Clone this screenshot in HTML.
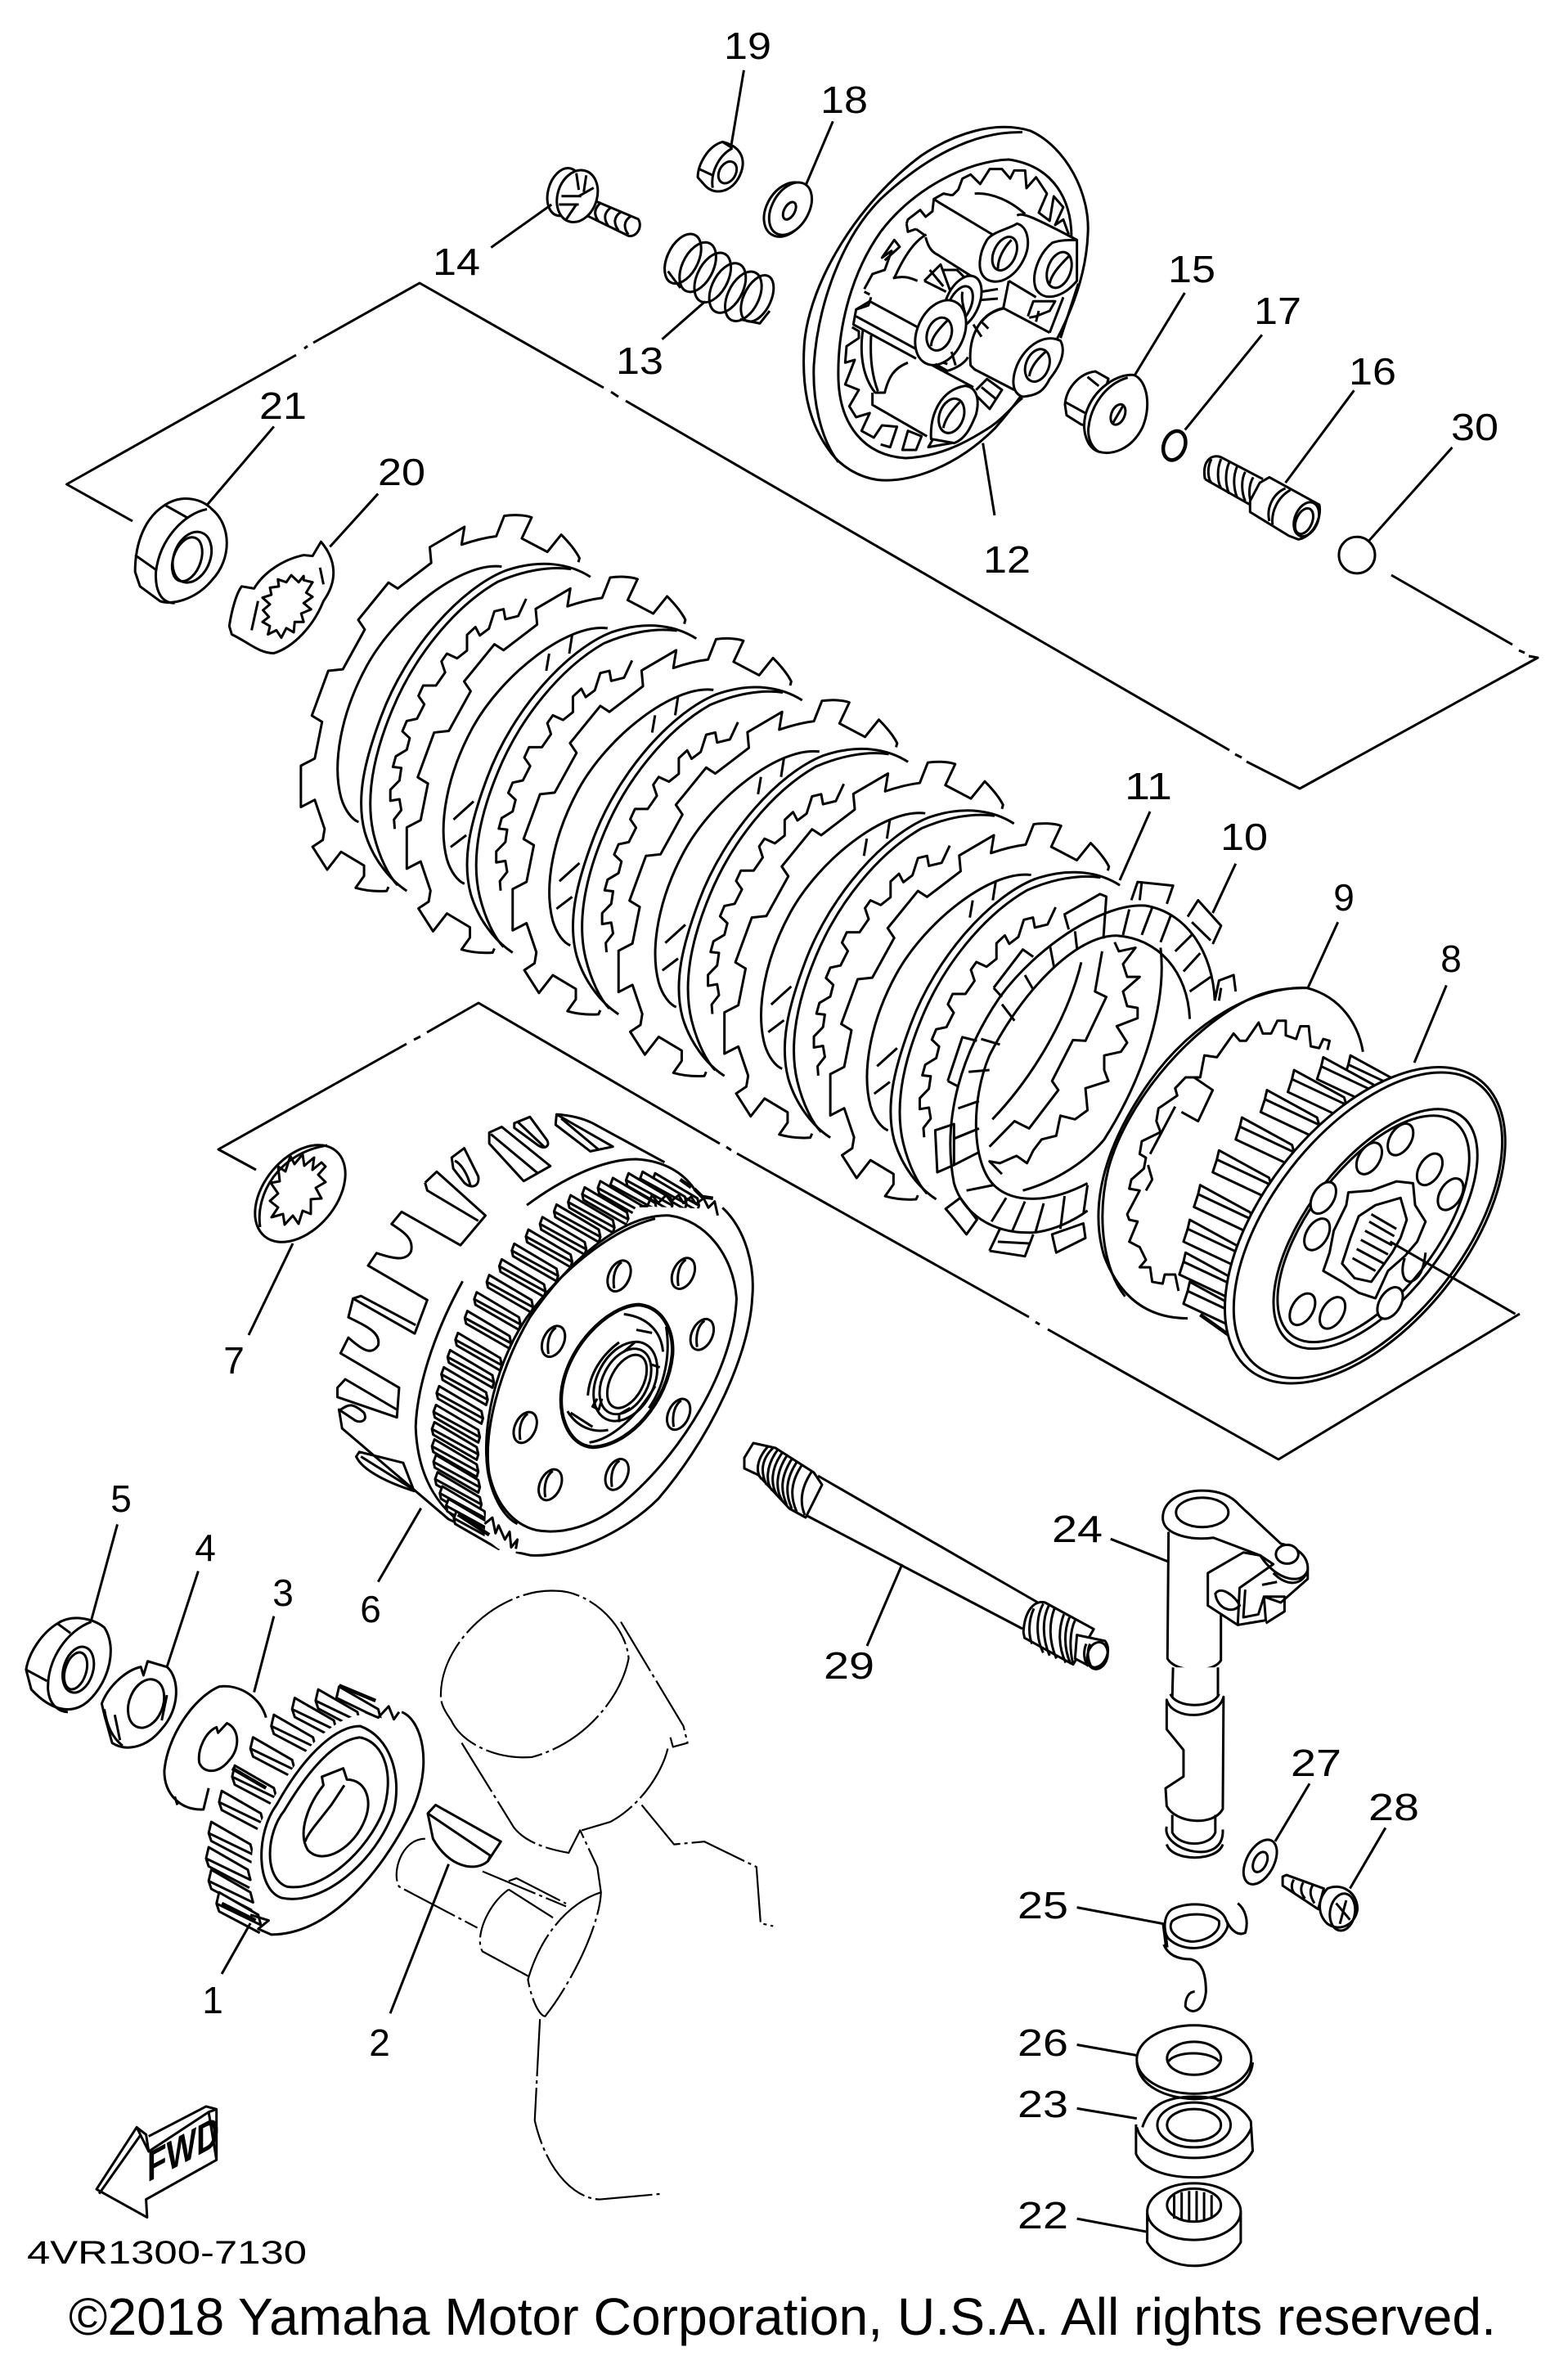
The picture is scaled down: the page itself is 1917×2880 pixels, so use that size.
<!DOCTYPE html>
<html><head><meta charset="utf-8"><title>Clutch diagram</title>
<style>
html,body{margin:0;padding:0;background:#fff}
svg{display:block}
path,ellipse,line,polyline,polygon{fill:none;stroke:#000;stroke-width:3;stroke-linejoin:round;vector-effect:non-scaling-stroke}
.w{fill:#fff}
.k{fill:#000}
.t{stroke-width:2.2;stroke-dasharray:70 5 4 5}
.b{stroke-width:4.5}
text{font-family:"Liberation Sans",sans-serif;font-size:46px;fill:#000;text-anchor:middle}
</style></head><body>
<svg xmlns="http://www.w3.org/2000/svg" width="1917" height="2880" viewBox="0 0 1917 2880">
<defs>
<g id="p">
<path d="M800,228 L803,215 C790,185 770,160 753,140 L715,195 L645,152 L672,85 C650,76 620,76 597,80 L575,145 C540,150 510,160 480,172 L488,115 L393,180 L397,230 L305,312 L280,293 L197,412 L215,443 L155,570 L115,575 L70,718 L98,738 L78,855 L40,878 L40,1010 L78,987 L105,1080 L100,1115 L72,1137 L112,1210 L150,1153 L213,1197 L213,1230 L190,1268 C220,1278 250,1280 275,1278 L280,1265"/>
<path d="M590,242 C480,225 300,390 220,560 C150,710 125,870 150,980 C160,1020 180,1050 198,1058"/>
<path d="M833,275 C780,235 700,215 600,255 C480,310 330,500 260,720 C215,860 190,980 215,1090 C235,1170 280,1240 330,1278"/>
<path d="M780,250 C720,240 650,255 580,290 C460,370 350,530 290,700 C240,840 215,980 240,1100 C255,1170 280,1230 305,1260"/>
<path d="M657,345 L635,400 L600,410 L595,378 L570,385 L555,440 L530,462 L518,435 L495,460 L495,510 L468,535 L440,520 L425,545 L435,580 L410,622 L375,622 L362,655 L378,682 L358,728 L330,735 L318,768 L338,790 L330,827 L300,848 L292,882 L315,885 L310,925 L285,955 L285,990 L310,985 L315,1020 L295,1050 L297,1080"/>
</g>
<path id="s" d="M430,323 L422,378 M493,263 L485,323 M223,795 L168,853 M203,903 L160,941"/>
<path id="ht" class="w" d="M0,0 L120,75 L125,95 L-5,25 Z M-5,25 L-15,60 L115,130 L125,95"/>
<path id="gt" class="w" d="M0,0 L135,80 L140,103 L-8,22 Z M-8,22 L-4,40 L135,120 L140,103"/>
<path id="st" class="w" d="M0,0 L75,40 L80,58 L-5,20 Z M-5,20 L0,34 L78,72"/>
<g id="h6"><ellipse class="w" rx="33" ry="52" transform="rotate(25)"/><path d="M8,-44 C-12,-30 -22,0 -16,40"/></g>
<g id="hh"><ellipse class="w" rx="26" ry="46" transform="rotate(25)"/></g>
</defs>
<rect width="1917" height="2880" fill="#fff"/>

<!-- phantom outlines -->
<path d="M162,637 L81.5,592 L362,434 M372,426 L376,423 M383,419 L513,346 L738,474 M747,479 L756,485 M765,490 L1503,917 M1510,922 L1518,926 M1524,931 L1589,964 L1880,804 L1869,802 M1864,798 L1857,795 M1849,788 L1701,703"/>
<path d="M313,1430 L267,1405 L497,1276 M506,1271 L514,1267 M522,1262 L585,1226 L880,1398 M888,1402 L894,1406 M901,1410 L1258,1610 M1266,1616 L1271,1619 M1281,1625 L1563,1784 L1858,1606"/>

<!-- plates -->
<g transform="translate(350,600) scale(.4464,.3827)">
<use href="#p"/><use href="#p" transform="translate(290,197)"/><use href="#p" transform="translate(580,394)"/><use href="#p" transform="translate(870,591)"/><use href="#p" transform="translate(1160,788)"/><use href="#p" transform="translate(1450,985)"/>
<use href="#s" transform="translate(290,197)"/><use href="#s" transform="translate(580,394)"/><use href="#s" transform="translate(870,591)"/><use href="#s" transform="translate(1160,788)"/><use href="#s" transform="translate(1450,985)"/>
</g>

<!-- parts 10, 9, 8 -->
<g transform="translate(1100,1000) scale(.5102,.4464)">
<path d="M485,365 L468,475 L495,490 L445,610 L415,608 L365,720 L380,745 L310,850 L275,830 L215,900"/>
<path d="M625,355 C640,500 590,700 490,880 C440,950 360,1000 295,1020"/>
<path d="M435,395 C400,560 310,720 222,825"/>
<path d="M695,550 C690,420 620,330 520,322 C420,320 290,480 215,650 C170,770 170,950 230,1010 C270,1050 350,1060 450,1000"/>
<path d="M515,340 L525,365 L565,355 L535,400 L545,435 L575,435 L535,475 L545,515 L570,520 L570,548 L520,570 L545,615 L530,640 L490,650 L490,690 L500,720 L445,740 L450,800 L420,825 L385,815 L375,870 L340,880 L320,910 L305,945 L280,925 L240,945 L215,940 L245,975"/>
<path d="M755,500 C750,370 690,260 590,240 C490,230 330,350 240,490 C150,640 100,820 130,1000 C150,1080 220,1140 320,1135 C370,1130 420,1100 450,1075"/>
<path d="M393,265 L480,208 L495,215 L488,330 M395,265 L405,305 M225,465 L295,360 L320,380 M225,465 L245,490 M115,720 L150,600 L185,610 M115,720 L140,735 M85,855 L130,838 L130,950 L90,970 Z M110,1070 L145,1040 L185,1100 L160,1140 L125,1090 Z M215,1185 L240,1125 M215,1185 L300,1200 L320,1140 M235,1160 L310,1165 M365,1140 L440,1110 L445,1150 L375,1190 Z M555,225 L570,175 L655,185 L640,235 M580,175 L575,225 M690,270 L715,225 L770,295 L750,345 M700,285 L745,335 M755,500 L765,445 L800,430 L805,475 M770,465 L765,500"/>
<path d="M550,250 L535,320 M605,245 L580,320 M650,265 L625,340 M700,320 L660,365 M720,370 L680,420 M745,435 L695,475 M420,310 L425,360 M360,350 L370,410 M300,430 L320,470 M245,510 L275,555 M195,605 L240,620 M165,695 L215,690 M140,795 L190,775 M130,878 L190,850 M130,950 L190,915 M160,1020 L225,1005 M220,1105 L255,1040 M270,1130 L300,1050 M325,1135 L345,1055 M385,1125 L395,1035 M440,1085 L450,1005"/>

<path class="w" d="M690,1370 C600,1370 530,1320 490,1200 C450,1050 500,880 600,720 C700,560 850,460 975,465 C1060,490 1100,570 1110,640 L900,1370 Z" style="stroke:none"/>
<path d="M690,1370 C600,1370 530,1320 490,1200 C450,1050 500,880 600,720 C700,560 850,460 975,465 C1060,490 1100,570 1110,640"/>
<path d="M540,1310 C490,1240 470,1100 500,960 C540,790 680,590 830,500 C880,470 930,465 975,465"/>
<path d="M1025,635 L1030,610 L1015,605 L1005,630 L985,625 L980,570 L960,570 L950,605 L925,595 L925,555 L905,555 L890,590 L870,590 L860,560 L830,610 L815,610 L800,590 L760,655 L730,650 L720,710 L685,710 L660,740 L665,760 L620,795 L615,830 L625,860 L580,885 L575,920 L590,930 L585,960 L555,990 L550,1015 L575,1020 L545,1085 L550,1100 L570,1105 L550,1160 L575,1175 L590,1210 L575,1230 L600,1230 L605,1270 L630,1275 L635,1250 L660,1250 L668,1295"/>
<path d="M705,710 L750,745 L715,830 L675,805 M660,790 L600,920 M595,950 L605,990 L590,1020"/>

<use href="#ht" x="1080" y="650"/><use href="#ht" x="1015" y="655"/><use href="#ht" x="945" y="690"/><use href="#ht" x="880" y="745"/><use href="#ht" x="820" y="820"/><use href="#ht" x="765" y="910"/><use href="#ht" x="720" y="1005"/><use href="#ht" x="695" y="1100"/><use href="#ht" x="685" y="1190"/><use href="#ht" x="695" y="1270"/>
<path class="b" d="M720,1360 L800,1425"/>
<ellipse class="w" cx="1115" cy="1115" rx="485" ry="255" transform="rotate(-58 1115 1115)"/>
<ellipse cx="1122" cy="1115" rx="470" ry="240" transform="rotate(-58 1122 1115)"/>
<ellipse cx="1140" cy="1125" rx="372" ry="170" transform="rotate(-58 1140 1125)"/>
<ellipse cx="1135" cy="1125" rx="352" ry="158" transform="rotate(-58 1135 1125)"/>
<g>
<use href="#hh" x="1200" y="880"/><use href="#hh" x="1125" y="932"/><use href="#hh" x="1270" y="962"/><use href="#hh" x="1320" y="1030"/><use href="#hh" x="1015" y="1040"/><use href="#hh" x="1000" y="1140"/><use href="#hh" x="965" y="1345"/><use href="#hh" x="1037" y="1355"/><use href="#hh" x="1175" y="1328"/>
</g>
<path class="w" d="M1130,1020 L1190,995 L1230,1000 L1235,1060 L1260,1105 L1240,1160 L1210,1200 L1170,1240 L1140,1315 L1100,1300 L1060,1270 L1015,1240 L1030,1190 L1040,1130 L1070,1060 L1075,1025 Z"/>
<path d="M1140,1060 L1200,1040 L1215,1100 L1200,1150 L1180,1190 L1130,1270 L1090,1260 L1060,1220 L1080,1150 L1100,1090 Z"/>
<path d="M1130,1085 L1190,1125 M1125,1105 L1185,1145 M1115,1130 L1180,1170 M1105,1155 L1170,1195 M1095,1180 L1160,1220 M1085,1205 L1140,1240"/>
<path d="M1210,1205 C1200,1240 1205,1270 1225,1270 C1245,1260 1255,1240 1260,1190"/>
<path d="M1175,1160 L1475,1358"/>
</g>

<!-- part 12 -->
<g transform="translate(950,130) scale(.3333)">
<path class="w" d="M930,90 C1060,150 1150,320 1140,470 C1130,700 1000,950 800,1180 C650,1330 480,1380 370,1370 C300,1360 230,1320 190,1260 C110,1150 90,1020 100,870 C120,640 300,350 530,180 C650,100 800,50 930,90 Z"/>
<path d="M900,95 C720,90 540,190 380,340 C240,480 150,720 135,950 C130,1080 160,1220 225,1305"/>
<path d="M1080,480 C1080,350 1020,220 850,195 C700,200 500,300 380,460 C280,600 220,800 225,1000 C230,1170 320,1280 470,1290 C590,1285 680,1240 760,1190 C830,1150 870,1090 900,1070"/>
<path d="M1050,700 L1000,830 M1105,650 L1040,850"/>
<path d="M475,430 L480,415 L525,380 L545,405 L570,385 L575,340 L610,320 L635,325 L645,325 L665,305 L680,265 L710,250 L745,285 L780,230 L825,230 L855,265 L870,235 L910,235 L915,300 L950,260 L990,320 L960,390 L1000,420 L1015,330 L1050,370 L1020,435 L1050,415 L1070,470"/>
<path d="M320,670 L350,615 L395,600 L420,530 L385,555 L430,490 L450,515 L395,565 M340,690 L320,680 M290,745 L335,730 L345,700 M275,810 L300,825 L300,850 L255,880 L250,940 L285,930 L250,1020 L300,1040 L265,1100 L290,1140 L340,1125 L310,1190 L355,1215 L385,1170 L440,1175 L415,1250 L380,1240 M460,1260 L480,1190 L530,1210 L510,1260 Z M555,1250 L575,1215 L640,1235 Z"/>
<path d="M430,630 C470,540 510,490 548,470 M425,630 C470,620 490,630 515,640 M315,820 C300,920 320,1000 360,1050 L395,1050 C410,990 430,960 480,940 M345,840 C340,930 350,990 370,1045 M350,1050 L350,1095 L550,1210"/>
<path d="M725,320 C790,315 860,350 910,395 M880,400 C900,390 930,400 1100,490"/>
<path d="M590,350 L790,470 M590,350 L575,340 M545,480 C555,520 570,535 590,545 L740,640 M510,450 L545,475 M475,430 L480,460 L510,450"/>
<path class="w" d="M880,430 C920,440 930,500 910,550 C880,620 820,660 770,635 C730,610 740,540 770,490 C790,460 850,450 880,430 Z"/>
<ellipse cx="835" cy="540" rx="40" ry="65" transform="rotate(25 835 540)"/>
<path d="M860,490 C830,520 810,560 810,595"/>
<path d="M850,640 L950,700 M830,740 L1000,830 M850,640 L830,740 M920,770 L940,715 L1020,715 L1000,750 L950,770 L925,775 M960,750 L950,790"/>
<path class="w" d="M1100,490 L1100,640 C1050,700 980,720 950,670 C930,620 960,540 1010,500 C1040,490 1070,490 1100,490 Z"/>
<ellipse cx="1035" cy="600" rx="42" ry="68" transform="rotate(20 1035 600)"/>
<path d="M1070,550 C1030,590 1005,620 1000,650"/>
<path d="M540,640 L600,580 L640,690 M560,600 L610,660 M540,640 L620,680 M610,600 L660,600 L700,640"/>
<ellipse class="w" cx="680" cy="720" rx="60" ry="105" transform="rotate(25 680 720)"/>
<ellipse cx="670" cy="730" rx="40" ry="75" transform="rotate(25 670 730)"/>
<path d="M680,680 C675,710 685,740 690,760 M750,680 L810,670 M750,710 L810,705 M835,740 C790,750 765,770 750,790 L775,815 M720,800 L750,845"/>
<path d="M340,715 L525,815 M340,715 L290,745 L280,800 L510,925 M290,770 L510,890"/>
<ellipse class="w" cx="600" cy="830" rx="85" ry="125" transform="rotate(25 600 830)"/>
<ellipse cx="595" cy="835" rx="44" ry="62" transform="rotate(20 595 835)"/>
<path d="M625,785 C590,820 565,850 565,880"/>
<path d="M830,740 C740,760 700,850 710,950 L725,965 L870,1040 M570,950 L720,1030 M580,945 L625,970 C660,960 690,940 700,920 M610,940 L625,945 M640,900 L655,950"/>
<path d="M730,1040 L770,1000 L825,1040 L780,1110 L730,1060 M750,1030 L805,1075"/>
<path class="w" d="M1040,860 C1060,900 1040,950 1000,1000 C980,1040 960,1060 900,1065 C860,1050 860,1000 880,950 C910,880 980,830 1040,860 Z"/>
<ellipse cx="955" cy="950" rx="42" ry="62" transform="rotate(22 955 950)"/>
<path d="M985,900 C950,930 930,960 925,990"/>
<path class="w" d="M565,1220 C560,1130 600,1040 690,1025 C730,1030 745,1070 730,1130 C710,1180 690,1220 650,1235 Z"/>
<ellipse cx="640" cy="1135" rx="44" ry="65" transform="rotate(20 640 1135)"/>
<path d="M670,1085 C635,1120 615,1150 610,1180"/>
</g>

<!-- top small parts -->
<g transform="translate(50,0) scale(.6061,.5102)">
<path class="w" d="M1375,340 C1410,350 1425,380 1410,420 C1395,460 1360,470 1340,445 L1325,425 C1325,395 1345,350 1375,340 Z"/>
<path d="M1395,355 C1370,370 1350,410 1355,450 M1375,340 L1395,355 M1328,405 L1355,420"/>
<ellipse cx="1385" cy="413" rx="17" ry="27" transform="rotate(20 1385 413)"/>
<ellipse class="w" cx="1505" cy="502" rx="42" ry="68" transform="rotate(22 1505 502)"/>
<ellipse class="w" cx="1512" cy="500" rx="38" ry="66" transform="rotate(22 1512 500)"/>
<ellipse cx="1510" cy="505" rx="11" ry="22" transform="rotate(22 1510 505)"/>
<path d="M1095,470 L1205,525 C1215,545 1200,570 1185,565 L1090,510"/>
<path d="M1110,475 C1095,490 1095,505 1105,520 M1130,485 C1115,500 1115,515 1125,530 M1150,497 C1135,510 1135,525 1145,542 M1170,508 C1155,520 1155,535 1165,552 M1190,518 C1175,530 1175,545 1185,562"/>
<ellipse class="w" cx="1055" cy="460" rx="32" ry="58" transform="rotate(12 1055 460)"/>
<ellipse class="w" cx="1082" cy="470" rx="40" ry="63" transform="rotate(12 1082 470)"/>
<path d="M1080,415 L1085,455 M1100,420 L1095,460 M1050,470 L1090,470 M1045,490 L1085,490 M1060,525 L1080,490 M1115,450 L1085,470"/>
<ellipse cx="1295" cy="620" rx="32" ry="62" transform="rotate(20 1295 620)"/>
<ellipse cx="1325" cy="640" rx="32" ry="62" transform="rotate(20 1325 640)"/>
<ellipse cx="1355" cy="665" rx="32" ry="62" transform="rotate(20 1355 665)"/>
<ellipse cx="1385" cy="690" rx="32" ry="62" transform="rotate(20 1385 690)"/>
<ellipse cx="1417" cy="710" rx="32" ry="62" transform="rotate(20 1417 710)"/>
<ellipse cx="1445" cy="715" rx="28" ry="58" transform="rotate(20 1445 715)"/>
<path d="M1265,650 L1290,690 M1410,765 L1450,775 L1470,745"/>
<path class="w" d="M250,1210 C290,1180 330,1200 345,1220 C385,1260 385,1340 345,1390 C310,1440 260,1450 240,1440 L200,1405 L190,1370 C190,1300 210,1240 250,1210 Z"/>
<path d="M335,1220 C290,1230 240,1290 232,1370 C230,1420 245,1445 270,1445 M250,1210 L295,1240 M190,1330 L232,1365"/>
<ellipse cx="305" cy="1335" rx="37" ry="62" transform="rotate(15 305 1335)"/>
<ellipse cx="295" cy="1340" rx="28" ry="54" transform="rotate(15 295 1340)"/>
<path class="w" d="M565,1298 C595,1340 600,1390 570,1440 C550,1500 510,1550 470,1565 C440,1565 420,1540 385,1520 L380,1500 C385,1460 395,1420 405,1405 L430,1410 C450,1370 490,1340 530,1330 L548,1332 Z"/>
<polygon points="530,1380 520,1395 505,1378 495,1395 478,1388 480,1405 462,1408 465,1425 447,1432 462,1448 448,1462 460,1478 447,1490 462,1500 458,1520 475,1510 485,1528 495,1505 510,1515 512,1490 530,1490 525,1470 545,1460 530,1445 548,1430 535,1420 548,1395 530,1390"/>
<path d="M438,1440 L425,1510 M563,1360 L570,1400"/>
</g>

<!-- right top parts -->
<g transform="translate(1300,300) scale(.3936,.4464)">
<path class="w" d="M5,435 C10,390 50,350 100,345 L140,365 L100,500 L55,490 L10,465 Z"/>
<path d="M75,360 L110,385 M8,430 L70,460"/>
<path class="w" d="M220,355 C260,370 275,440 245,500 C210,560 150,575 110,565 C75,555 55,510 70,460 C95,390 170,350 220,355 Z"/>
<path d="M200,362 C130,380 85,440 78,500 C75,530 90,555 110,565"/>
<ellipse cx="170" cy="463" rx="20" ry="30" transform="rotate(30 170 463)"/>
<path d="M185,440 L155,485"/>
<ellipse class="b" cx="345" cy="548" rx="32" ry="42" transform="rotate(30 345 548)"/>
<path d="M440,640 C430,590 460,570 490,580 L620,640 M440,640 L580,710"/>
<path d="M460,585 C445,610 450,640 460,650 M490,585 C475,615 480,650 490,665 M515,595 C500,625 505,660 515,680 M540,605 C525,635 530,670 540,690 M565,620 C550,645 555,680 565,700 M590,635 C575,655 575,690 585,705"/>
<path class="w" d="M610,650 L640,635 L795,710 C805,750 770,800 730,805 L700,795 L580,730 L580,700 Z"/>
<ellipse cx="755" cy="750" rx="35" ry="50" transform="rotate(30 755 750)"/>
<ellipse cx="748" cy="755" rx="24" ry="38" transform="rotate(30 748 755)"/>
<path d="M690,665 C650,680 630,720 640,755 M705,670 C665,690 645,730 650,765"/>
<ellipse cx="912" cy="848" rx="56" ry="50"/>
</g>

<!-- part 7 -->
<ellipse cx="367" cy="1459" rx="68" ry="44" transform="rotate(-50 367 1459)"/>
<path d="M318,1500 C312,1460 340,1410 400,1400"/>
<polygon points="393,1421 382,1430 384,1415 372,1425 370,1411 360,1423 355,1413 349,1432 340,1426 342,1444 331,1446 340,1459 330,1468 340,1476 332,1488 346,1484 348,1497 358,1486 365,1496 370,1480 380,1484 380,1466 393,1465 386,1452 398,1445 389,1436 398,1426"/>

<!-- part 6 -->
<g transform="translate(380,1350) scale(.3827)">
<path d="M785,32 L965,135 L893,150 L782,65 Z M800,45 L920,145"/>
<path d="M650,60 L700,40 L755,115 C765,135 745,145 725,130 L650,75 Z M660,55 L745,135"/>
<path d="M570,90 L610,72 L765,197 L680,245 L570,125 Z M575,95 L725,220"/>
<path d="M450,170 L490,140 L535,230 C540,265 510,270 490,250 L455,205 Z M460,180 C480,190 500,220 510,260"/>
<path d="M365,250 L402,215 L558,355 L478,450 L290,343 L258,382 C300,410 330,430 320,470 C305,500 270,495 210,475 L183,515 L372,625 L332,732 L135,620 L160,612 L335,705 M135,620 L120,680 C180,710 225,730 215,770 C195,800 170,790 120,745 L95,795 L282,905 L275,1000 L85,935 L85,905 L110,878 L275,975 M365,250 L372,275 L535,372"/>
<path d="M95,975 C120,960 130,950 170,985 C185,1015 150,1020 135,1005 L90,975 L100,1035 L440,1325 L560,1382"/>
<path d="M155,1110 L295,1145 L330,1235 C250,1210 165,1170 145,1125 Z M160,1125 L320,1225"/>
<path d="M785,32 C830,35 870,45 900,60 L1130,185"/>
<path d="M690,322 C800,240 930,175 1040,175 C1130,180 1190,220 1225,270"/>
<path d="M1315,330 C1390,400 1420,520 1410,620 C1400,800 1280,1060 1110,1260 C1000,1370 820,1450 700,1440 L655,1430"/>
<path d="M485,565 C410,700 340,880 335,1030 C340,1180 400,1310 555,1380"/>
<use href="#gt" x="1100" y="220"/><use href="#gt" x="1060" y="215"/><use href="#gt" x="1015" y="220"/><use href="#gt" x="965" y="235"/><use href="#gt" x="925" y="245"/><use href="#gt" x="875" y="265"/><use href="#gt" x="830" y="290"/><use href="#gt" x="785" y="320"/><use href="#gt" x="740" y="360"/><use href="#gt" x="695" y="400"/><use href="#gt" x="650" y="445"/><use href="#gt" x="610" y="495"/><use href="#gt" x="570" y="545"/><use href="#gt" x="530" y="600"/><use href="#gt" x="500" y="660"/><use href="#gt" x="470" y="730"/><use href="#gt" x="445" y="785"/><use href="#gt" x="425" y="840"/><use href="#gt" x="410" y="900"/><use href="#gt" x="400" y="960"/><use href="#gt" x="395" y="1015"/><use href="#gt" x="395" y="1070"/><use href="#gt" x="400" y="1120"/><use href="#gt" x="405" y="1175"/><use href="#gt" x="420" y="1220"/><use href="#gt" x="440" y="1260"/><use href="#gt" x="465" y="1300"/>
<path class="w" style="stroke:none" d="M1040,325 L1310,335 L1320,370 L1145,358 L1000,400 Z"/>
<path class="w" style="stroke:none" d="M560,1290 L680,1390 L670,1430 L600,1420 L555,1385 Z"/>
<path d="M1050,325 L1075,325 L1090,290 L1110,315 L1135,290 L1150,310 L1175,290 L1190,315 L1215,295 L1230,318 L1255,300 L1270,330 L1290,310 L1300,355"/>
<path d="M555,1340 L580,1320 L590,1370 L600,1345 L620,1390 L635,1365 L640,1415 L660,1390 L655,1420"/>
<path d="M1225,270 L1250,295 L1285,300 M1180,240 L1215,265" class="b"/>
<path d="M470,1310 L570,1375" class="b"/>
<path class="w" d="M1145,355 C1260,370 1350,480 1360,620 C1350,850 1180,1120 1000,1270 C900,1350 800,1375 720,1360 C640,1340 590,1270 570,1180 C550,1050 600,850 700,680 C830,490 1000,350 1145,355 Z"/>
<path d="M1100,365 C960,400 800,530 690,680 C590,830 545,1030 565,1170 C580,1260 620,1320 660,1340"/>
<use href="#h6" x="985" y="548"/><use href="#h6" x="1190" y="540"/><use href="#h6" x="1250" y="735"/><use href="#h6" x="1175" y="990"/><use href="#h6" x="978" y="1182"/><use href="#h6" x="765" y="1215"/><use href="#h6" x="685" y="1032"/><use href="#h6" x="775" y="757"/>
<path class="b" d="M800,930 C810,780 950,640 1050,640 C1130,650 1160,730 1155,800 C1140,950 1020,1090 900,1095 C830,1090 795,1010 800,930 Z"/>
<path d="M820,980 C850,1030 900,1050 950,1040 M1000,670 C1080,680 1120,730 1125,790 M1135,710 C1150,800 1130,900 1080,970 M830,985 L900,1030 M1040,720 L1090,730 M890,1080 C960,1070 1040,1000 1100,900"/>
<ellipse cx="1005" cy="885" rx="90" ry="135" transform="rotate(28 1005 885)"/>
<ellipse cx="1005" cy="885" rx="72" ry="112" transform="rotate(28 1005 885)"/>
<ellipse class="w" cx="1010" cy="885" rx="52" ry="92" transform="rotate(28 1010 885)"/>
<path d="M985,760 C930,800 890,860 885,930 M1000,790 L1035,760 M1085,830 L1115,840 M915,940 L900,965 L920,975 L930,940 M985,1015 L985,990 L1020,970"/>
</g>

<!-- part 29 -->
<path d="M1000,1804 L1269,1959 M985,1852 L1250,1991"/>
<path class="w" d="M910,1782 L921,1764 L948,1770 L995,1800 L1005,1815 L985,1855 L965,1844 L927,1803 L910,1795 Z"/>
<path d="M939,1768 C924,1785 924,1800 931,1808 M945,1770 C930,1785 930,1800 937,1815 M951,1772 C936,1792 936,1812 944,1822 M957,1775 C942,1795 942,1815 950,1828 M963,1778 C948,1800 948,1820 956,1834 M969,1782 C954,1805 954,1822 962,1840 M975,1786 C960,1808 960,1826 968,1844 M981,1790 C966,1812 966,1830 974,1848 M993,1798 C978,1820 978,1838 984,1852"/>

<!-- parts 24-28, 22, 23, 26 -->
<g transform="translate(1200,1750) scale(.4573,.7207)">
<path class="w" d="M112,340 C115,305 140,285 170,290 L300,335 L245,395 L230,390 L115,350 Z"/>
<path d="M140,300 C125,320 125,345 135,360 M165,292 C145,315 145,350 165,375 M180,295 C162,318 162,350 182,380 M195,300 C180,325 180,355 200,385 M220,310 C205,335 205,365 225,392 M235,315 C220,338 220,368 238,394 M250,320 C235,340 235,370 245,395"/>
<path class="w" d="M255,345 L330,355 C350,370 330,400 300,400 L280,395 L250,385 Z"/>
<ellipse cx="310" cy="380" rx="28" ry="22" transform="rotate(-20 310 380)"/>
<path d="M290,360 C280,375 285,390 295,400 M280,360 C270,375 275,390 285,398"/>

<path class="w" d="M500,170 L497,385 C520,410 620,410 640,388 L645,170 Z" style="stroke:none"/>
<path d="M500,170 L497,385 C520,410 620,410 640,388 L640,310"/>
<path class="w" d="M485,150 C480,120 530,100 590,100 C640,100 670,110 690,125 L800,190 C840,195 875,210 872,235 C860,260 790,255 745,210 L620,180 C560,185 490,175 485,150 Z"/>
<ellipse cx="590" cy="137" rx="70" ry="25"/>
<ellipse class="w" cx="817" cy="208" rx="30" ry="16"/>
<path d="M780,240 C820,265 860,260 872,235 L872,250 L800,290 L755,280 L760,320 L685,328 L605,295 L605,240 L700,205 L745,210 L780,225 L690,265 L685,328 M690,265 L780,225 M705,268 L700,315 L740,310 L755,280 L810,280 L810,305 L760,325 M625,275 C640,260 680,280 690,295 C670,310 630,300 625,275 Z M750,260 L790,255"/>
<path class="w" d="M512,400 L510,450 L630,450 L632,400 Z" style="stroke:none"/>
<path d="M512,400 L510,450 M632,400 L632,450"/>
<path class="w" d="M495,455 C510,490 630,490 647,450 L645,640 C620,670 520,665 495,635 L492,605 L540,585 L540,540 L495,505 Z"/>
<path d="M505,445 C520,470 620,470 635,445"/>
<path d="M510,650 L510,680 C530,705 610,705 625,680 L625,650"/>
<path d="M495,670 C480,710 650,740 645,675 M495,700 C510,730 630,730 645,700"/>
<ellipse class="w" cx="745" cy="730" rx="50" ry="30" transform="rotate(-35 745 730)"/>
<ellipse cx="745" cy="730" rx="22" ry="14" transform="rotate(-35 745 730)"/>
<path d="M805,755 L815,752 L915,775 L900,810 L805,770 Z M835,760 C825,770 830,780 840,785 M860,765 C850,775 855,785 865,792 M885,770 C875,780 880,790 890,800"/>
<path class="w" d="M925,775 C960,765 1005,780 1005,810 C1000,835 960,850 925,835 C900,820 895,795 925,775 Z"/>
<ellipse cx="965" cy="815" rx="35" ry="30" transform="rotate(-30 965 815)"/>
<path d="M948,800 L985,828 M975,795 L958,835"/>
<path d="M655,830 C640,800 560,795 510,810 C485,820 485,850 500,860 C540,885 620,880 650,850 C660,840 660,835 655,830 Z"/>
<path d="M635,830 C610,815 540,815 510,830 C495,845 520,862 560,865 C600,865 640,850 635,830 Z"/>
<path d="M487,870 C500,890 530,895 560,895 C590,900 600,920 600,950 C595,985 560,990 545,975 C545,960 555,950 570,950"/>
<path d="M655,830 C670,850 690,855 705,850 C715,830 705,810 685,800"/>
<path class="w b" d="M487,835 L495,875"/>
<ellipse class="w" cx="568" cy="1065" rx="153" ry="58"/>
<path d="M415,1070 C420,1110 490,1130 568,1132 C650,1130 720,1110 725,1070"/>
<ellipse cx="568" cy="1063" rx="72" ry="28"/>
<path d="M500,1068 C520,1050 610,1050 635,1068"/>
<path d="M430,1180 C450,1140 500,1128 568,1128 C650,1128 700,1145 720,1170 L725,1220 C700,1250 640,1265 568,1265 C490,1265 430,1250 413,1225 L413,1175"/>
<path d="M415,1180 C430,1215 500,1232 568,1232 C640,1232 700,1215 722,1180"/>
<ellipse cx="568" cy="1176" rx="98" ry="38"/>
<ellipse cx="568" cy="1176" rx="72" ry="27"/>
<ellipse class="w" cx="568" cy="1323" rx="125" ry="48"/>
<path d="M443,1325 L443,1375 C470,1405 530,1415 568,1415 C620,1415 670,1400 693,1375 L693,1325"/>
<ellipse cx="568" cy="1312" rx="72" ry="28"/>
<path d="M515,1295 L515,1335 M535,1290 L535,1338 M555,1288 L555,1340 M575,1288 L575,1340 M595,1290 L595,1338 M615,1295 L615,1335"/>
</g>

<!-- bottom-left parts -->
<g transform="translate(0,1800) scale(.6378,.6888)">
<path class="w" d="M110,268 C140,250 180,260 200,275 C225,310 210,370 170,405 C140,430 100,425 60,385 L50,350 C55,320 80,285 110,268 Z"/>
<path d="M175,265 C130,280 90,330 92,385 C95,415 115,425 130,425 M110,268 L135,285 M50,350 L90,370"/>
<ellipse cx="150" cy="350" rx="28" ry="42" transform="rotate(20 150 350)"/>
<ellipse cx="145" cy="352" rx="20" ry="34" transform="rotate(20 145 352)"/>
<path class="w" d="M283,335 L320,345 C345,365 345,420 310,455 C280,490 240,495 215,480 L200,430 L195,410 C210,375 245,350 270,345 L275,360 Z"/>
<ellipse cx="280" cy="410" rx="32" ry="45" transform="rotate(25 280 410)"/>
<path d="M220,430 L230,475 M320,395 L310,440 M200,420 C205,450 215,470 235,485"/>
<path d="M510,435 C500,400 460,375 420,380 C370,400 320,470 315,530 C315,570 345,600 390,598 L400,560 M335,575 L340,590"/>
<path d="M435,445 C460,455 460,490 440,510 C420,535 390,535 382,515 C378,490 395,460 415,452 L418,462 Z"/>
<use href="#st" x="650" y="380"/><use href="#st" x="610" y="385"/><use href="#st" x="565" y="400"/><use href="#st" x="525" y="430"/><use href="#st" x="485" y="470"/><use href="#st" x="450" y="520"/><use href="#st" x="425" y="565"/><use href="#st" x="405" y="620"/><use href="#st" x="400" y="665"/><use href="#st" x="405" y="705"/><use href="#st" x="420" y="745"/>
<path class="b" d="M650,378 L720,405 M445,525 L510,560 M425,765 L490,795"/>
<path class="w" style="stroke:none" d="M700,430 C800,440 830,520 790,600 C720,730 620,820 520,810 C490,790 470,720 490,640 C550,520 630,430 700,430 Z"/>
<path d="M700,425 L725,435 L745,415 L755,438 L765,425 M770,425 C810,440 830,520 790,600 C720,730 620,820 520,820 L495,810 L515,795 L480,785"/>
<path d="M690,450 C750,470 770,540 755,600 C720,690 620,770 540,755 C490,740 490,640 530,590 C590,490 650,450 690,450 Z"/>
<path d="M690,470 C740,480 755,540 735,600 C705,670 620,745 550,735 C505,720 510,640 545,600 C590,530 640,475 690,470"/>
<path d="M658,525 L665,545 C700,545 715,580 700,615 C680,665 620,700 590,670 C570,640 590,590 620,555 L617,540 Z"/>
<path d="M660,555 L635,590 C610,620 590,640 585,655"/>
<path class="t" d="M845,395 C845,300 960,205 1065,210 C1130,210 1200,270 1205,330 C1190,400 1120,480 1020,505 C950,510 885,480 865,440 C850,420 845,410 845,395 Z"/>
<path class="t" d="M1190,265 L1310,450 L1318,480 L1290,487 L1285,470 M885,480 L985,630 C1010,660 1060,670 1090,675 L1112,635 L1145,700 L1152,745 M1280,490 C1270,530 1230,590 1170,620 L1115,635 M1230,590 L1292,660 L1350,655 L1450,700 L1458,800 L1482,805"/>
<path class="t" d="M1152,745 C1100,760 1040,810 1012,900 C1020,940 1035,965 1045,965 C1100,900 1150,800 1152,745 Z M1035,970 L1025,1150 C1050,1250 1110,1290 1150,1290 L1270,1280 M815,650 C770,650 750,710 765,735 L915,808 M925,708 L1085,770 M975,740 C930,770 910,830 925,850 L1015,895 M975,725 L990,720 L1085,765 M975,740 L1060,790"/>
<path class="w" d="M820,605 L835,590 L960,655 L935,690 C910,710 860,700 830,650 Z"/>
<path d="M820,605 L940,680 L935,690"/>
<path class="w" d="M185,1272 L262,1162 L285,1205 L400,1135 L415,1220 L280,1290 L282,1322 Z"/>
<path d="M262,1162 L280,1175 L285,1205 M285,1178 L395,1125 L415,1130 L415,1220 M190,1280 L270,1175 M400,1135 L415,1130"/>
</g>

<!-- leaders -->
<g transform="translate(50,0) scale(.6061,.5102)"><path d="M1418,168 L1393,345 M908,593 L1030,490 M1253,813 L1340,722 M470,1022 L335,1210 M680,1183 L583,1310"/></g>
<g transform="translate(950,130) scale(.3333)"><path d="M205,55 L105,290 M755,1235 L798,1500"/></g>
<g transform="translate(1300,300) scale(.3936,.4464)"><path d="M377,130 L222,355 M617,245 L378,505 M903,397 L690,650 M1208,553 L950,808"/></g>
<g transform="translate(1100,1000) scale(.5102,.4464)"><path d="M1310,458 L1233,670 M1050,285 L978,465 M805,125 L750,260"/></g>
<path d="M1406,992 L1369,1076 M304,1632 L358,1520 M1060,2012 L1103,1912"/>
<g transform="translate(380,1350) scale(.3827)"><path d="M215,1525 L352,1290"/></g>
<g transform="translate(0,1800) scale(.6378,.6888)"><path d="M225,92 L175,262 M380,175 L320,345 M525,255 L487,390 M425,890 L480,800 M748,960 L860,695"/></g>
<g transform="translate(1200,1750) scale(.4573,.7207)"><path d="M345,182 L497,220 M877,597 L785,695 M1080,672 L985,775 M255,807 L487,835 M255,1040 L415,1058 M255,1148 L415,1165 M255,1335 L440,1357"/></g>

<!-- labels -->
<text x="914" y="72" textLength="58" lengthAdjust="spacingAndGlyphs">19</text><text x="1032" y="138" textLength="58" lengthAdjust="spacingAndGlyphs">18</text><text x="558" y="336" textLength="58" lengthAdjust="spacingAndGlyphs">14</text><text x="782" y="457" textLength="58" lengthAdjust="spacingAndGlyphs">13</text><text x="346" y="512" textLength="58" lengthAdjust="spacingAndGlyphs">21</text><text x="491" y="593" textLength="58" lengthAdjust="spacingAndGlyphs">20</text>
<text x="1457" y="345" textLength="58" lengthAdjust="spacingAndGlyphs">15</text><text x="1562" y="396" textLength="58" lengthAdjust="spacingAndGlyphs">17</text><text x="1678" y="470" textLength="58" lengthAdjust="spacingAndGlyphs">16</text><text x="1803" y="538" textLength="58" lengthAdjust="spacingAndGlyphs">30</text><text x="1404" y="977" textLength="58" lengthAdjust="spacingAndGlyphs">11</text><text x="1231" y="700" textLength="58" lengthAdjust="spacingAndGlyphs">12</text>
<text x="1521" y="1039" textLength="58" lengthAdjust="spacingAndGlyphs">10</text><text x="1643" y="1113">9</text><text x="1774" y="1188">8</text><text x="286" y="1679">7</text><text x="453" y="1983">6</text><text x="148" y="1848">5</text><text x="251" y="1908">4</text><text x="346" y="1963">3</text><text x="260" y="2461">1</text><text x="464" y="2513">2</text>
<text x="1317" y="1885" textLength="62" lengthAdjust="spacingAndGlyphs">24</text><text x="1609" y="2171" textLength="62" lengthAdjust="spacingAndGlyphs">27</text><text x="1704" y="2225" textLength="62" lengthAdjust="spacingAndGlyphs">28</text><text x="1275" y="2345" textLength="62" lengthAdjust="spacingAndGlyphs">25</text><text x="1275" y="2513" textLength="62" lengthAdjust="spacingAndGlyphs">26</text><text x="1275" y="2588" textLength="62" lengthAdjust="spacingAndGlyphs">23</text><text x="1275" y="2724" textLength="62" lengthAdjust="spacingAndGlyphs">22</text><text x="1038" y="2052" textLength="62" lengthAdjust="spacingAndGlyphs">29</text>
<text transform="matrix(.88,-.47,0,1,180,2668)" style="text-anchor:start;font-weight:bold;font-size:52px" textLength="100" lengthAdjust="spacingAndGlyphs">FWD</text>
<text x="204" y="2767" style="font-size:40px" textLength="342" lengthAdjust="spacingAndGlyphs">4VR1300-7130</text>
<text x="84" y="2854" style="text-anchor:start;font-size:64px" textLength="1745" lengthAdjust="spacingAndGlyphs">©2018 Yamaha Motor Corporation, U.S.A. All rights reserved.</text>
</svg>
</body></html>
